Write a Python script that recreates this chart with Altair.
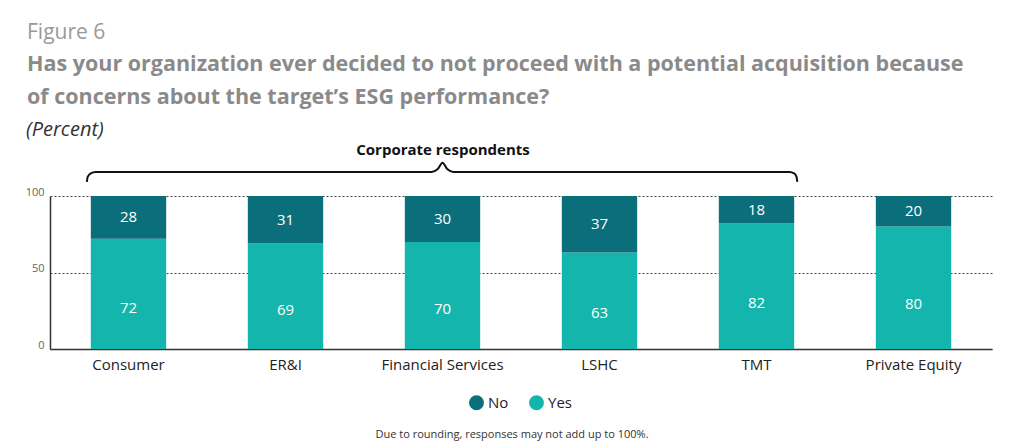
import altair as alt
import pandas as pd

categories = ["Consumer", "ER&I", "Financial Services", "LSHC", "TMT", "Private Equity"]
yes_values = [72, 69, 70, 63, 82, 80]
no_values = [28, 31, 30, 37, 18, 20]
y_ticks = [0, 50, 100]

# brace annotation shape (x in category-band units, y in percent units)
brace_x = [0.235, 0.24, 0.26, 0.29, 2.43, 2.47, 2.5, 2.53, 2.57, 4.71, 4.74, 4.755, 4.76]
brace_y = [109.2, 112.5, 114.8, 115.7, 115.7, 117.6, 121.8, 117.6, 115.7, 115.7, 114.8, 112.5, 109.2]

NO_COLOR = "#0b6e7b"
YES_COLOR = "#14b5ad"
FONT = "Open Sans"

rows = []
for c, y, n in zip(categories, yes_values, no_values):
    rows.append({"category": c, "answer": "Yes", "value": y, "order": 0,
                 "label_y": y * 0.37})
    rows.append({"category": c, "answer": "No", "value": n, "order": 1,
                 "label_y": y + n / 2})
df = pd.DataFrame(rows)

yscale = alt.Scale(domain=[0, 100])
yaxis = alt.Axis(title=None, values=y_ticks, ticks=False, labelFontSize=11,
                 labelColor="#666", labelFont=FONT, labelPadding=6,
                 labelOffset=-4, domainColor="#333", domainWidth=1.5,
                 grid=True, gridColor="#444", gridDash=[2, 2], gridWidth=1)
xenc = alt.X("category:N", sort=categories,
             scale=alt.Scale(paddingInner=0.52, paddingOuter=0.26),
             axis=alt.Axis(title=None, labelAngle=0, labelFontSize=15, labelColor="#222",
                           labelFont=FONT, labelPadding=8, ticks=False,
                           domainColor="#333", domainWidth=1.5, grid=False))

bars = alt.Chart(df).mark_bar().encode(
    x=xenc,
    y=alt.Y("value:Q", stack="zero", scale=yscale, axis=yaxis),
    color=alt.Color("answer:N", scale=alt.Scale(domain=["No", "Yes"], range=[NO_COLOR, YES_COLOR]),
                    legend=alt.Legend(title=None, orient="none", direction="horizontal",
                                      legendX=419, legendY=199, symbolType="circle",
                                      symbolSize=220, symbolStrokeWidth=0, symbolOpacity=1,
                                      labelFontSize=15, labelColor="#222", labelFont=FONT,
                                      labelOffset=4, columnPadding=20, padding=0)),
    order=alt.Order("order:Q", sort="ascending"),
)

labels = alt.Chart(df).mark_text(color="white", fontSize=15, font=FONT, baseline="middle").encode(
    x=alt.X("category:N", sort=categories),
    y=alt.Y("label_y:Q", scale=yscale, axis=yaxis),
    text=alt.Text("value:Q"),
)

brace_df = pd.DataFrame({"bx": brace_x, "by": brace_y})
brace = alt.Chart(brace_df).mark_line(color="#111", strokeWidth=2, interpolate="monotone").encode(
    x=alt.X("bx:Q", scale=alt.Scale(domain=[0, 6]), axis=None),
    y=alt.Y("by:Q", scale=yscale, axis=yaxis),
)

def txt(s, x, y, size, color, weight="normal", style="normal", align="left"):
    return alt.Chart(pd.DataFrame({"t": [s]})).mark_text(
        fontSize=size, color=color, fontWeight=weight, fontStyle=style, font=FONT,
        align=align, baseline="alphabetic").encode(
        text="t:N", x=alt.value(x), y=alt.value(y))

texts = [
    txt("Figure 6", -23, -157, 21, "#9a9a9a"),
    txt("Has your organization ever decided to not proceed with a potential acquisition because",
        -23, -125, 21.5, "#8a8a8a", weight="bold"),
    txt("of concerns about the target\u2019s ESG performance?", -23, -92, 21.5, "#8a8a8a", weight="bold"),
    txt("(Percent)", -24, -60, 20, "#333", style="italic"),
    txt("Corporate respondents", 393, -41, 15, "#111", weight="bold", align="center"),
    txt("Due to rounding, responses may not add up to 100%.", 462, 242, 11, "#333", align="center"),
]

main = alt.layer(bars, labels, *texts)
chart = alt.layer(main, brace).resolve_scale(x="independent", y="shared").resolve_axis(
    y="shared").properties(
    width=942, height=153,
    autosize=alt.AutoSizeParams(type="none"),
    padding={"left": 42, "top": 188, "right": 24, "bottom": 100},
).configure_view(strokeWidth=0, stroke="transparent")

chart.save("out.html", embed_options={"renderer": "svg", "actions": False})
